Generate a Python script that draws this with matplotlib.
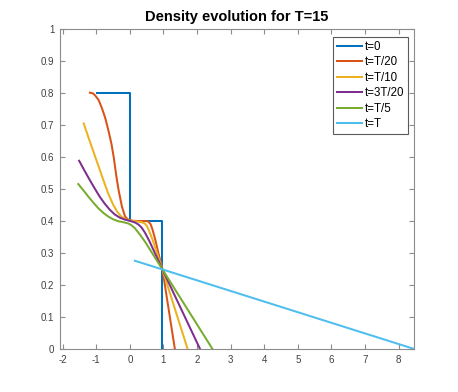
import numpy as np
import matplotlib.pyplot as plt

# values
x_t0 = [-0.98, 0.0, 0.0, 0.97, 0.97]
rho_t0 = [0.80, 0.80, 0.40, 0.40, 0.0]

x_t1 = [-1.19, -1.10, -1.03, -0.93, -0.83, -0.73, -0.63, -0.55, -0.48, -0.40, -0.335,
        -0.235, -0.14, -0.04, 0.10, 0.50, 0.56, 0.62, 0.68, 0.76, 0.85, 0.97, 1.34]
rho_t1 = [0.802, 0.800, 0.793, 0.779, 0.753, 0.722, 0.680, 0.643, 0.600, 0.539, 0.497,
          0.445, 0.414, 0.404, 0.401, 0.400, 0.398, 0.390, 0.372, 0.341, 0.300, 0.249, 0.0]

x_t2 = [-1.375, -1.2, -1.0, -0.8, -0.65, -0.5, -0.38, -0.25, -0.12, 0.0, 0.15, 0.35,
        0.45, 0.52, 0.58, 0.68, 0.97, 1.72]
rho_t2 = [0.706, 0.652, 0.592, 0.532, 0.488, 0.452, 0.430, 0.414, 0.406, 0.402, 0.400,
          0.397, 0.392, 0.383, 0.368, 0.341, 0.249, 0.0]

x_t3 = [-1.51, -1.35, -1.2, -1.05, -0.9, -0.75, -0.6, -0.45, -0.3, -0.15, 0.0, 0.15,
        0.25, 0.35, 0.45, 0.58, 0.97, 2.09]
rho_t3 = [0.589, 0.558, 0.530, 0.503, 0.477, 0.455, 0.436, 0.421, 0.411, 0.405, 0.401,
          0.396, 0.390, 0.380, 0.364, 0.338, 0.249, 0.0]

x_t4 = [-1.535, -1.38, -1.23, -1.08, -0.935, -0.78, -0.636, -0.5, -0.35, -0.2, -0.05,
        0.05, 0.15, 0.3, 0.45, 0.97, 2.46]
rho_t4 = [0.516, 0.496, 0.476, 0.457, 0.440, 0.425, 0.414, 0.406, 0.400, 0.397, 0.393,
          0.387, 0.378, 0.358, 0.336, 0.249, 0.0]

x_tT = [0.15, 0.97, 8.47]
rho_tT = [0.276, 0.249, 0.0]

labels = ['t=0', 't=T/20', 't=T/10', 't=3T/20', 't=T/5', 't=T']
xs = [x_t0, x_t1, x_t2, x_t3, x_t4, x_tT]
ys = [rho_t0, rho_t1, rho_t2, rho_t3, rho_t4, rho_tT]

# matlab default line colours
colors = ['#0072BD', '#D95319', '#EDB120', '#7E2F8E', '#77AC30', '#4DBEEE']

plt.rcParams['font.family'] = ['Liberation Sans', 'DejaVu Sans']
plt.rcParams['axes.unicode_minus'] = False

fig = plt.figure(figsize=(4.58, 3.92), dpi=100)
ax = fig.add_axes([0.131, 0.1097, 0.7736, 0.8153])

for x, y, c, lab in zip(xs, ys, colors, labels):
    ax.plot(x, y, color=c, lw=1.45, label=lab)

ax.set_xlim(-2.08, 8.47)
ax.set_ylim(0, 1)
ax.set_xticks(np.arange(-2, 9))
ax.set_yticks(np.arange(0, 1.01, 0.1))
ax.set_yticklabels(['0', '0.1', '0.2', '0.3', '0.4', '0.5', '0.6', '0.7', '0.8', '0.9', '1'])

axis_grey = '#8c8c8c'
for s in ax.spines.values():
    s.set_color(axis_grey)
    s.set_linewidth(0.8)
ax.tick_params(direction='in', length=3.5, width=0.8, color=axis_grey,
               labelsize=7, labelcolor='#404040', top=True, right=True, pad=4)

ax.set_title('Density evolution for T=15', fontsize=10.5, fontweight='bold', pad=6)

leg = ax.legend(loc='upper right', bbox_to_anchor=(0.982, 0.977), borderaxespad=0,
                fontsize=8.3, fancybox=False, edgecolor='#5a5a5a', framealpha=1,
                handlelength=2.2, handletextpad=0.2, labelspacing=0.3, borderpad=0.35)
leg.get_frame().set_linewidth(0.8)

fig.savefig('out.png', dpi=100)
